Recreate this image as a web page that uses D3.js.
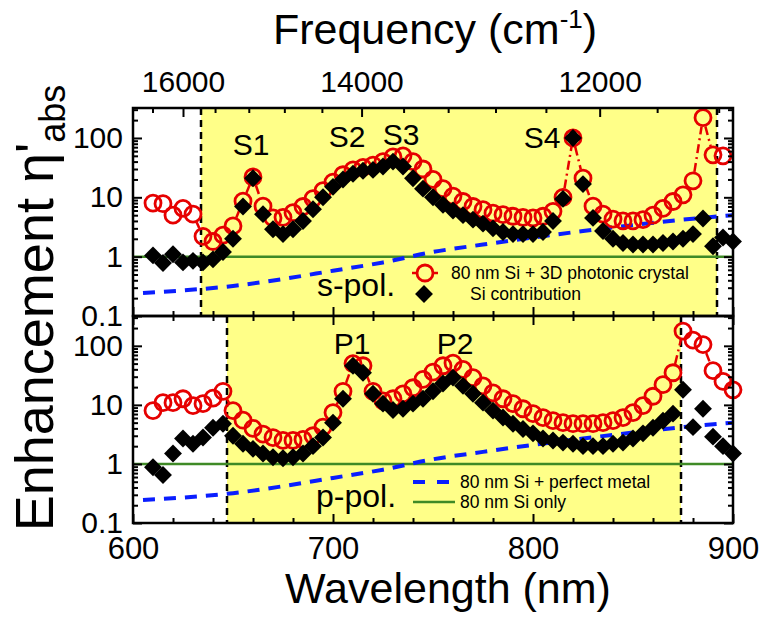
<!DOCTYPE html>
<html>
<head>
<meta charset="utf-8">
<script src="https://cdn.jsdelivr.net/npm/d3@7"></script>
<style>
  body { margin: 0; background: #fff; }
  text { font-family: "Liberation Sans", Arial, sans-serif; fill: #000; }
</style>
</head>
<body>
<div id="chart"></div>
<script>
// wavelength grid (nm) shared by the four measured series
const wl = [610,615,620,625,630,635,640,645,650,655,660,665,670,675,680,685,690,695,700,705,
            710,715,720,725,730,735,740,745,750,755,760,765,770,775,780,785,790,795,800,805,
            810,815,820,825,830,835,840,845,850,855,860,865,870,875,880,885,890,895,900];

// s-pol: 80 nm Si + 3D photonic crystal / Si contribution
const sCrystal = [8.0,7.8,5.0,6.5,5.2,2.2,1.8,2.3,3.3,8.6,22,7.1,4.5,4.6,5.5,7.0,9.5,13,18,24,
                  29,32,35,40,48,50,40,30,20,14,10.5,8.5,7.0,6.2,5.4,5.1,4.8,4.6,4.5,4.8,
                  5.8,10,100,21,7.1,5.2,4.3,4.0,4.0,4.2,5.0,6.5,8.5,11,19,220,52,50,null];
const sSi = [1.05,0.78,1.1,0.8,0.85,0.8,0.9,1.2,2.0,7.0,21,5.2,2.9,2.4,2.9,4.0,6.3,10,15,20,
             25,28,29,33,40,33,21,14,10,7.5,6.0,5.0,4.2,3.6,3.0,2.6,2.4,2.4,2.4,2.6,
             4.0,9.4,100,16.7,4.5,2.7,2.0,1.7,1.6,1.6,1.6,1.7,1.8,2.0,2.4,4.4,1.5,2.1,1.8];

// p-pol
const pCrystal = [8.0,10.9,10.9,12.7,9.7,10.5,13,17,8.0,5.5,4.0,3.2,2.8,2.5,2.5,2.6,3.0,4.2,7.4,17,
                  50,46,17,11.7,12.7,15.4,19.5,27,36,46,51,40,29,21,16,12.7,10.5,8.6,7.1,6.1,
                  5.4,5.0,4.8,4.8,4.8,5.0,5.4,6.1,7.4,9.7,14,22,35,178,125,105,38,25,18];
const pSi = [0.88,0.65,1.5,2.7,2.2,2.8,4.1,4.8,3.0,2.2,1.8,1.5,1.3,1.25,1.3,1.5,2.0,2.8,5.0,12.7,
             46,35,15.4,10.5,8.2,8.6,10.5,12.7,17,23,29,21,15.4,10.9,8.0,6.1,4.8,3.9,3.3,2.7,
             2.5,2.3,2.2,2.0,2.0,2.0,2.2,2.3,2.7,3.3,4.1,5.4,7.1,18,4.2,8.6,2.9,2.0,1.5];

// reference curves
const metalWl  = [605,625,650,675,700,725,750,775,800,825,850,875,900];
const metalVal = [0.245,0.27,0.32,0.42,0.58,0.8,1.2,1.6,2.1,2.7,3.4,4.2,5.0];
const siOnlyWl  = [600,900];
const siOnlyVal = [1,1];

// photonic band gap regions (nm)
const sBand = [634,892];
const pBand = [647,874];

// axes
const wlMajor   = [600,700,800,900];
const freqMajor = [16000,14000,12000];
const freqMinor = [16400,15600,15200,14800,14400,13600,13200,12800,12400,11600,11200];
const yMajor    = [0.1,1,10,100];

const sPeaks = ["S1","S2","S3","S4"];
const pPeaks = ["P1","P2"];

const W = 764, H = 617;
const red = "#e60000", blue = "#0a1eff", green = "#3f8a26", yellow = "#ffff88";
const R = 8;

const svg = d3.select("#chart").append("svg").attr("width", W).attr("height", H);

const x = d3.scaleLinear().domain([600,900]).range([133,733]);
// frequency (cm^-1) -> x, since wavelength = 1e7 / frequency
const xf = d3.scalePow().exponent(-1).domain([1e7/600, 1e7/900]).range([133,733]);
const wlMinor = x.ticks(15).filter(d => wlMajor.indexOf(d) < 0);

const panels = [
  {crystal: sCrystal, si: sSi, band: sBand, top: 108, bottom: 316, pol: "s-pol.",
   peaks: sPeaks, peakWl: [659,707,734,804.5], peakVal: [52,70,76,68]},
  {crystal: pCrystal, si: pSi, band: pBand, top: 316, bottom: 523, pol: "p-pol.",
   peaks: pPeaks, peakWl: [709.5,761], peakVal: [73,73]}
];

function gapSegments(pts, r) {
  let segs = [];
  for (let i = 1; i < pts.length; i++) {
    let [x0,y0] = pts[i-1], [x1,y1] = pts[i];
    let dx = x1 - x0, dy = y1 - y0, L = Math.hypot(dx, dy);
    if (L <= 2*r + 1) continue;
    let ux = dx / L, uy = dy / L;
    segs.push([x0 + ux*r, y0 + uy*r, x1 - ux*r, y1 - uy*r]);
  }
  return segs;
}

function styleAxis(g, size) {
  g.select(".domain").remove();
  g.selectAll("line").attr("stroke", "#000").attr("stroke-width", 2);
  g.attr("font-family", "Liberation Sans, Arial, sans-serif").attr("font-size", size);
  g.selectAll("text").attr("fill", "#000");
}

const diamond = d3.symbol(d3.symbolSquare, 160);

panels.forEach(function(p, pi) {
  const y = d3.scaleLog().domain([0.1, 320]).range([p.bottom, p.top]);
  const g = svg.append("g");

  // band gap region
  g.append("rect")
    .attr("x", x(p.band[0])).attr("y", p.top)
    .attr("width", x(p.band[1]) - x(p.band[0])).attr("height", p.bottom - p.top)
    .attr("fill", yellow);
  g.selectAll(".edge").data(p.band).enter().append("line")
    .attr("x1", d => x(d)).attr("x2", d => x(d))
    .attr("y1", p.top).attr("y2", p.bottom)
    .attr("stroke", "#000").attr("stroke-width", 2.5).attr("stroke-dasharray", "7,5");

  // Si only
  g.append("path")
    .datum(siOnlyWl.map((d,i) => [d, siOnlyVal[i]]))
    .attr("d", d3.line().x(d => x(d[0])).y(d => y(d[1])))
    .attr("stroke", green).attr("stroke-width", 2.5).attr("fill", "none");

  // Si + perfect metal
  g.append("path")
    .datum(metalWl.map((d,i) => [d, metalVal[i]]))
    .attr("d", d3.line().curve(d3.curveMonotoneX).x(d => x(d[0])).y(d => y(d[1])))
    .attr("stroke", blue).attr("stroke-width", 4).attr("fill", "none")
    .attr("stroke-dasharray", "12,9");

  // photonic crystal: dash-dot connectors broken at the symbols, then open circles
  const pts = wl.map((d,i) => [d, p.crystal[i]]).filter(d => d[1] != null)
                .map(d => [x(d[0]), y(d[1])]);
  g.selectAll(".seg").data(gapSegments(pts, R + 1)).enter().append("line")
    .attr("x1", d => d[0]).attr("y1", d => d[1]).attr("x2", d => d[2]).attr("y2", d => d[3])
    .attr("stroke", red).attr("stroke-width", 2.5).attr("stroke-dasharray", "9,4,2,4");
  g.selectAll(".pc").data(pts).enter().append("circle")
    .attr("cx", d => d[0]).attr("cy", d => d[1]).attr("r", R)
    .attr("fill", "none").attr("stroke", red).attr("stroke-width", 2.8);

  // Si contribution
  g.selectAll(".si").data(wl.map((d,i) => [d, p.si[i]]).filter(d => d[1] != null))
    .enter().append("path")
    .attr("d", diamond)
    .attr("transform", d => "translate(" + x(d[0]) + "," + y(d[1]) + ") rotate(45)")
    .attr("fill", "#000");

  // peak labels
  g.selectAll(".peak").data(p.peaks).enter().append("text")
    .attr("x", (d,i) => x(p.peakWl[i])).attr("y", (d,i) => y(p.peakVal[i]))
    .attr("text-anchor", "middle").attr("font-size", 30).text(d => d);

  // polarisation label
  g.append("text").attr("x", 356).attr("y", pi === 0 ? 296 : 507)
    .attr("text-anchor", "middle").attr("font-size", 32).text(p.pol);

  // axes: ticks inward on all four sides
  const left = g.append("g").attr("transform", "translate(133,0)");
  left.append("g").call(d3.axisLeft(y).tickValues(yMajor).tickSize(-9).tickPadding(10)
      .tickFormat(d3.format("~g"))).call(s => styleAxis(s, 30));
  left.append("g").call(d3.axisLeft(y).tickValues(y.ticks().filter(d => yMajor.indexOf(d) < 0))
      .tickSize(-5).tickFormat("")).call(s => styleAxis(s, 10));
  const right = g.append("g").attr("transform", "translate(733,0)");
  right.append("g").call(d3.axisRight(y).tickValues(yMajor).tickSize(-9).tickFormat(""))
    .call(s => styleAxis(s, 10));
  right.append("g").call(d3.axisRight(y).tickValues(y.ticks().filter(d => yMajor.indexOf(d) < 0))
      .tickSize(-5).tickFormat("")).call(s => styleAxis(s, 10));

  const bottom = g.append("g").attr("transform", "translate(0," + p.bottom + ")");
  bottom.append("g").call(d3.axisBottom(x).tickValues(wlMajor).tickSize(-9).tickPadding(14)
      .tickFormat(pi === 1 ? d3.format("d") : "")).call(s => styleAxis(s, 31));
  bottom.append("g").call(d3.axisBottom(x).tickValues(wlMinor).tickSize(-5).tickFormat(""))
    .call(s => styleAxis(s, 10));

  const topAx = g.append("g").attr("transform", "translate(0," + p.top + ")");
  if (pi === 0) {
    topAx.append("g").call(d3.axisTop(xf).tickValues(freqMajor).tickSize(-9).tickPadding(16)
        .tickFormat(d3.format("d"))).call(s => styleAxis(s, 30));
    topAx.append("g").call(d3.axisTop(xf).tickValues(freqMinor).tickSize(-5).tickFormat(""))
      .call(s => styleAxis(s, 10));
  } else {
    topAx.append("g").call(d3.axisTop(x).tickValues(wlMajor).tickSize(-9).tickFormat(""))
      .call(s => styleAxis(s, 10));
    topAx.append("g").call(d3.axisTop(x).tickValues(wlMinor).tickSize(-5).tickFormat(""))
      .call(s => styleAxis(s, 10));
  }

  g.append("rect").attr("x", 133).attr("y", p.top).attr("width", 600)
    .attr("height", p.bottom - p.top).attr("fill", "none")
    .attr("stroke", "#000").attr("stroke-width", 2.5);
});

// legends
const lg = svg.append("g").attr("font-size", 17.5);
const leg1 = [[403,273],[425,273],[447,273]];
lg.selectAll(".l1").data(gapSegments(leg1, R + 1))
  .enter().append("line")
  .attr("x1", d => d[0]).attr("y1", d => d[1]).attr("x2", d => d[2]).attr("y2", d => d[3])
  .attr("stroke", red).attr("stroke-width", 2.5).attr("stroke-dasharray", "9,4,2,4");
lg.append("circle").attr("cx", 425).attr("cy", 273).attr("r", R)
  .attr("fill", "none").attr("stroke", red).attr("stroke-width", 2.8);
lg.append("text").attr("x", 451).attr("y", 279).text("80 nm Si + 3D photonic crystal");
lg.append("path").attr("d", diamond).attr("transform", "translate(424,294) rotate(45)");
lg.append("text").attr("x", 470).attr("y", 300).text("Si contribution");

lg.append("line").attr("x1", 413).attr("x2", 452).attr("y1", 482).attr("y2", 482)
  .attr("stroke", blue).attr("stroke-width", 4).attr("stroke-dasharray", "12,12");
lg.append("text").attr("x", 460).attr("y", 488).text("80 nm Si + perfect metal");
lg.append("line").attr("x1", 413).attr("x2", 455).attr("y1", 502).attr("y2", 502)
  .attr("stroke", green).attr("stroke-width", 2.5);
lg.append("text").attr("x", 460).attr("y", 508).text("80 nm Si only");

// axis titles
svg.append("text").attr("x", 448).attr("y", 603).attr("text-anchor", "middle")
  .attr("font-size", 43).text("Wavelength (nm)");

const ft = svg.append("text").attr("x", 435).attr("y", 44).attr("text-anchor", "middle")
  .attr("font-size", 43);
ft.append("tspan").text("Frequency (cm");
ft.append("tspan").attr("font-size", 26).attr("dy", -16).text("-1");
ft.append("tspan").attr("dy", 16).text(")");

const yt = svg.append("text").attr("transform", "translate(53,308) rotate(-90)")
  .attr("text-anchor", "middle").attr("font-size", 54);
yt.append("tspan").text("Enhancement η'");
yt.append("tspan").attr("font-size", 36).attr("dy", 12).text("abs");
</script>
</body>
</html>
